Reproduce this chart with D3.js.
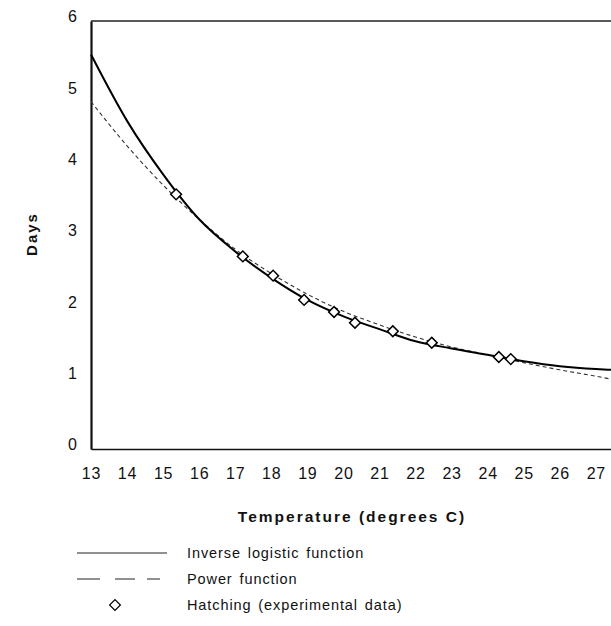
<!DOCTYPE html>
<html><head><meta charset="utf-8">
<script src="https://cdn.jsdelivr.net/npm/d3@7"></script>
<style>
body{margin:0;background:#fff;}
svg{display:block;font-family:"Liberation Sans",Arial,sans-serif;}
</style></head>
<body>
<script>
const curveTemps = [13, 14, 15, 16, 17, 18, 19, 20, 21, 22, 23, 24, 25, 26, 27, 27.42];
const logisticDays = [5.53, 4.6, 3.85, 3.22, 2.77, 2.4, 2.09, 1.86, 1.68, 1.51, 1.41, 1.32, 1.23, 1.16, 1.12, 1.11];
const powerDays = [4.87, 4.25, 3.7, 3.22, 2.8, 2.46, 2.17, 1.93, 1.74, 1.57, 1.43, 1.32, 1.21, 1.11, 1.02, 0.98];
const hatchTemps = [15.36, 17.21, 18.05, 18.91, 19.74, 20.32, 21.37, 22.45, 24.31, 24.64];
const hatchDays = [3.57, 2.70, 2.43, 2.09, 1.92, 1.77, 1.65, 1.49, 1.29, 1.26];
const xTicks = [13,14,15,16,17,18,19,20,21,22,23,24,25,26,27];
const yTicks = [0,1,2,3,4,5,6];
const legendLabels = ["Inverse logistic function", "Power function", "Hatching (experimental data)"];

const W = 611, H = 626;
const svg = d3.select("body").append("svg").attr("width", W).attr("height", H);
const x = d3.scaleLinear().domain([13, 27.42]).range([91, 611]);
const y = d3.scaleLinear().domain([0, 6]).range([449, 21]);
const FONT = '"Liberation Sans",Arial,sans-serif';

// top frame
svg.append("line").attr("x1", x(13)).attr("x2", W).attr("y1", y(6)).attr("y2", y(6))
  .attr("stroke", "#222").attr("stroke-width", 1.6);

// axes
const xAxis = svg.append("g").attr("transform", `translate(0,${y(0)})`)
  .call(d3.axisBottom(x).tickValues(xTicks).tickFormat(d3.format("d")).tickSize(0).tickPadding(19));
xAxis.select(".domain").attr("stroke", "#111").attr("stroke-width", 1.6);
xAxis.selectAll("text").attr("font-size", 16).attr("fill", "#111").attr("letter-spacing", 0.8)
  .attr("font-family", FONT);

const yAxis = svg.append("g").attr("transform", `translate(${x(13)},0)`)
  .call(d3.axisLeft(y).tickValues(yTicks).tickFormat(d3.format("d")).tickSize(0).tickPadding(14));
yAxis.select(".domain").attr("stroke", "#111").attr("stroke-width", 2.2);
yAxis.selectAll("text").attr("font-size", 16).attr("fill", "#111").attr("dy", "0.05em")
  .attr("font-family", FONT);

// curves
const logPts = curveTemps.map((t, i) => [t, logisticDays[i]]);
const powPts = curveTemps.map((t, i) => [t, powerDays[i]]);
const line = d3.line().x(d => x(d[0])).y(d => y(d[1])).curve(d3.curveMonotoneX);
svg.append("path").datum(powPts).attr("d", line).attr("fill", "none")
  .attr("stroke", "#333").attr("stroke-width", 1.1).attr("stroke-dasharray", "4,3");
svg.append("path").datum(logPts).attr("d", line).attr("fill", "none")
  .attr("stroke", "#000").attr("stroke-width", 2);

// data points
const diamond = d3.symbol().type(d3.symbolSquare).size(58);
svg.selectAll("path.pt").data(hatchTemps.map((t, i) => [t, hatchDays[i]])).enter()
  .append("path").attr("class", "pt").attr("d", diamond)
  .attr("transform", d => `translate(${x(d[0])},${y(d[1])}) rotate(45)`)
  .attr("fill", "#fff").attr("stroke", "#000").attr("stroke-width", 1.5);

// axis titles
svg.append("text").attr("x", 352).attr("y", 522).attr("text-anchor", "middle")
  .attr("font-size", 15.5).attr("font-weight", "bold").attr("letter-spacing", 2)
  .attr("fill", "#111").text("Temperature (degrees C)");
svg.append("text").attr("transform", "translate(37,234) rotate(-90)").attr("text-anchor", "middle")
  .attr("font-size", 15).attr("font-weight", "bold").attr("letter-spacing", 2)
  .attr("fill", "#111").text("Days");

// legend
const ly = [553, 579, 605];
const lg = svg.append("g");
lg.append("line").attr("x1", 77).attr("x2", 167).attr("y1", ly[0]).attr("y2", ly[0])
  .attr("stroke", "#222").attr("stroke-width", 1);
lg.append("line").attr("x1", 77).attr("x2", 160).attr("y1", ly[1]).attr("y2", ly[1])
  .attr("stroke", "#222").attr("stroke-width", 1).attr("stroke-dasharray", "23,15,20,12,13");
lg.append("path").attr("d", diamond).attr("transform", `translate(115,${ly[2]}) rotate(45)`)
  .attr("fill", "#fff").attr("stroke", "#000").attr("stroke-width", 1.2);
lg.selectAll("text.lt").data(legendLabels).enter().append("text").attr("class", "lt")
  .attr("x", 187).attr("y", (d, i) => ly[i]).attr("dy", "0.35em")
  .attr("font-size", 14.5).attr("letter-spacing", 0.9).attr("word-spacing", 2)
  .attr("fill", "#111").text(d => d);
</script>
</body></html>
